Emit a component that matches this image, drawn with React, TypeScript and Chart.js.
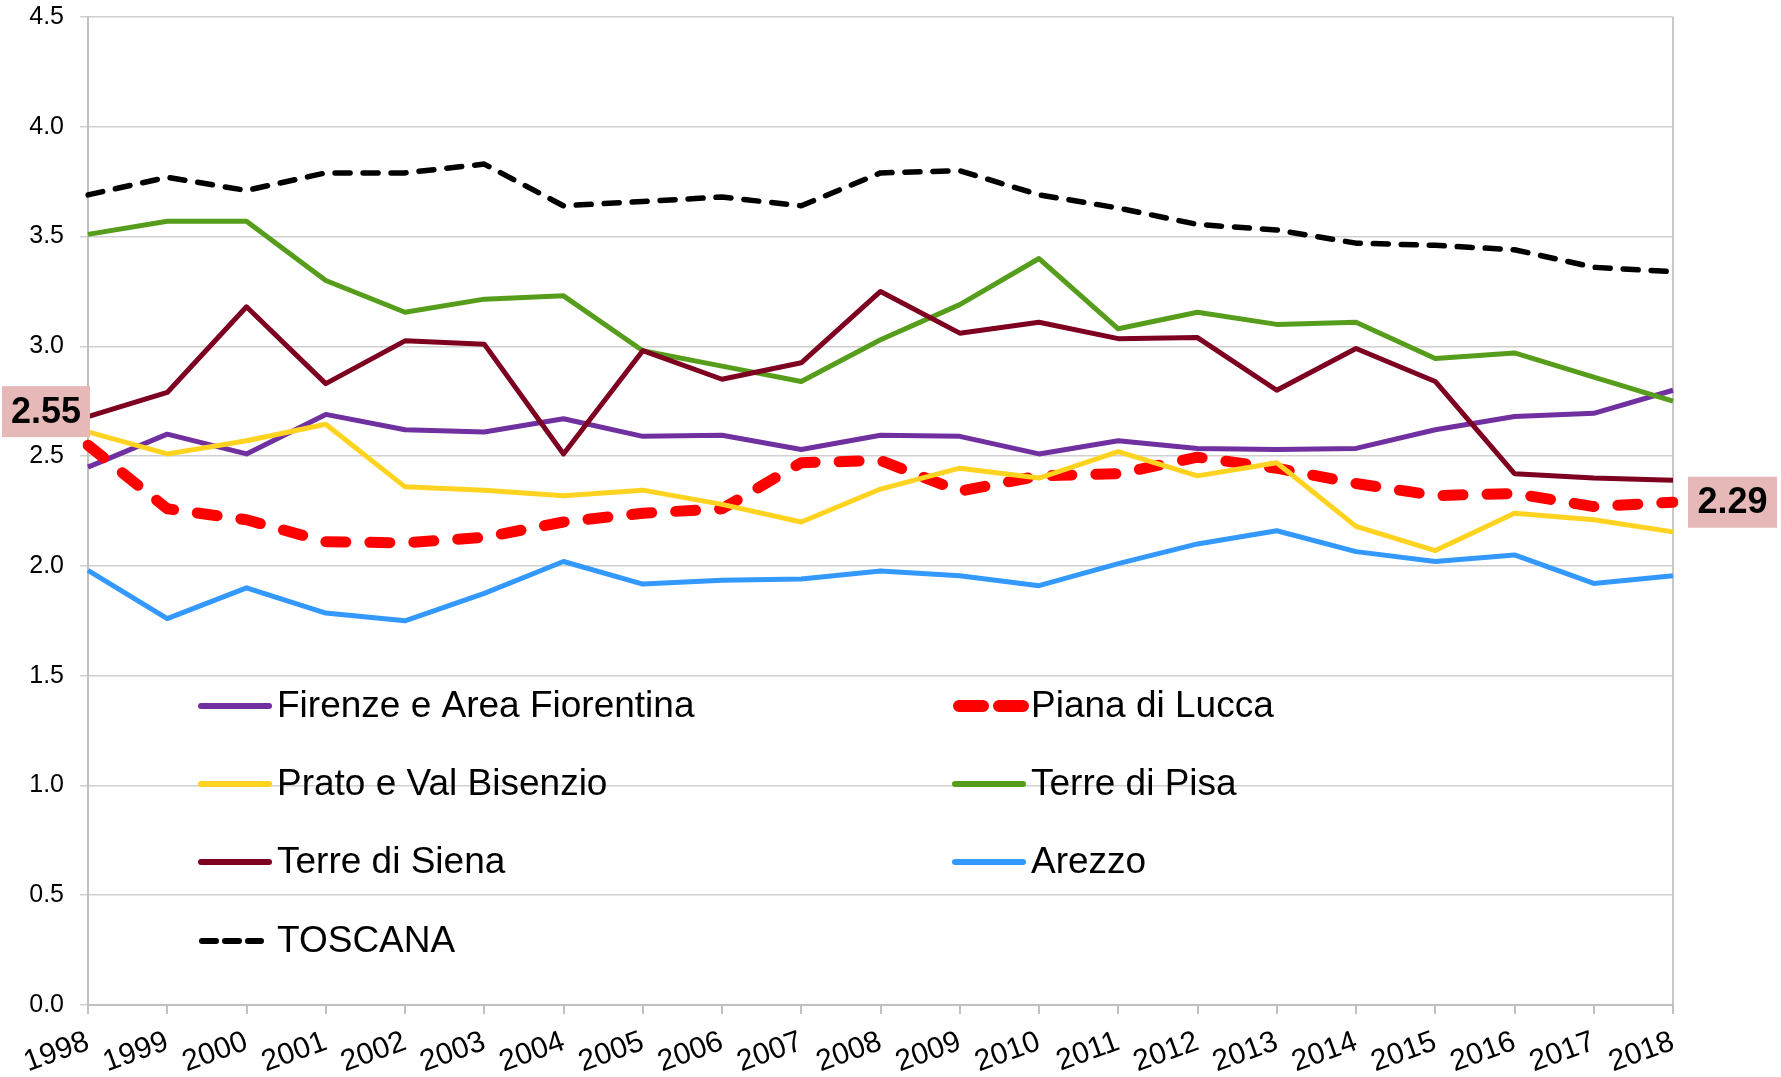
import React, { useEffect, useRef } from "react";
import { Chart, registerables } from "chart.js";

Chart.register(...registerables);

const years = ["1998", "1999", "2000", "2001", "2002", "2003", "2004", "2005", "2006", "2007", "2008", "2009", "2010", "2011", "2012", "2013", "2014", "2015", "2016", "2017", "2018"];

const firenze = [2.45, 2.60, 2.51, 2.69, 2.62, 2.61, 2.67, 2.59, 2.595, 2.53, 2.595, 2.59, 2.51, 2.57, 2.535, 2.53, 2.535, 2.62, 2.68, 2.695, 2.80];
const pianaLucca = [2.55, 2.26, 2.21, 2.11, 2.105, 2.13, 2.20, 2.24, 2.26, 2.47, 2.48, 2.34, 2.41, 2.42, 2.495, 2.445, 2.375, 2.32, 2.33, 2.27, 2.29];
const prato = [2.61, 2.51, 2.57, 2.645, 2.36, 2.345, 2.32, 2.345, 2.28, 2.20, 2.35, 2.445, 2.40, 2.52, 2.41, 2.47, 2.18, 2.07, 2.24, 2.21, 2.155];
const terrePisa = [3.51, 3.57, 3.57, 3.30, 3.155, 3.215, 3.23, 2.98, 2.91, 2.84, 3.03, 3.19, 3.40, 3.08, 3.155, 3.10, 3.11, 2.945, 2.97, 2.86, 2.75];
const terreSiena = [2.68, 2.79, 3.18, 2.83, 3.025, 3.01, 2.51, 2.98, 2.85, 2.925, 3.25, 3.06, 3.11, 3.035, 3.04, 2.80, 2.99, 2.84, 2.42, 2.40, 2.39];
const arezzo = [1.98, 1.76, 1.90, 1.785, 1.75, 1.875, 2.02, 1.917, 1.935, 1.94, 1.977, 1.955, 1.91, 2.01, 2.10, 2.16, 2.065, 2.02, 2.05, 1.92, 1.955];
const toscana = [3.69, 3.77, 3.71, 3.79, 3.79, 3.83, 3.64, 3.66, 3.68, 3.64, 3.79, 3.80, 3.69, 3.63, 3.555, 3.53, 3.47, 3.46, 3.44, 3.36, 3.34];

const seriesNames = ["Firenze e Area Fiorentina", "Piana di Lucca", "Prato e Val Bisenzio", "Terre di Pisa", "Terre di Siena", "Arezzo", "TOSCANA"];

const FONT = '"Liberation Sans", Arial, sans-serif';

export default function App() {
  const ref = useRef<HTMLCanvasElement>(null);

  useEffect(() => {
    const canvas = ref.current;
    if (!canvas) return;

    const styles = [
      { color: "#7030a0", width: 5, dash: [] as number[] },
      { color: "#ff0000", width: 11, dash: [20, 24] },
      { color: "#ffd320", width: 5, dash: [] as number[] },
      { color: "#579d1c", width: 5, dash: [] as number[] },
      { color: "#7e0021", width: 5, dash: [] as number[] },
      { color: "#3399ff", width: 5, dash: [] as number[] },
      { color: "#000000", width: 5.5, dash: [15, 13] },
    ];
    const values = [firenze, pianaLucca, prato, terrePisa, terreSiena, arezzo, toscana];

    const datasets = values.map((d, i) => ({
      label: seriesNames[i],
      data: d,
      borderColor: styles[i].color,
      backgroundColor: styles[i].color,
      borderWidth: styles[i].width,
      borderDash: styles[i].dash,
      borderCapStyle: styles[i].dash.length ? ("round" as const) : ("butt" as const),
      borderJoinStyle: "round" as const,
      pointRadius: 0,
      pointHoverRadius: 0,
      tension: 0,
      fill: false,
      order: 10 - i,
    }));

    const legendPlugin = {
      id: "customLegend",
      afterDatasetsDraw(chart: any) {
        const ctx = chart.ctx as CanvasRenderingContext2D;
        const cols = [199, 953];
        const rows = [706, 784, 862, 941];
        ctx.save();
        seriesNames.forEach((name, i) => {
          const x0 = cols[i % 2];
          const y = rows[Math.floor(i / 2)];
          const st = styles[i];
          ctx.beginPath();
          ctx.strokeStyle = st.color;
          ctx.lineWidth = i === 1 ? 12 : 6;
          ctx.lineCap = "round";
          if (i === 1) {
            ctx.setLineDash([24, 16]);
            ctx.moveTo(x0 + 6, y);
            ctx.lineTo(x0 + 70, y);
          } else if (i === 6) {
            ctx.setLineDash([14, 9]);
            ctx.moveTo(x0 + 3, y);
            ctx.lineTo(x0 + 62, y);
          } else {
            ctx.setLineDash([]);
            ctx.moveTo(x0 + 2, y);
            ctx.lineTo(x0 + 70, y);
          }
          ctx.stroke();
          ctx.setLineDash([]);
          ctx.fillStyle = "#000";
          ctx.font = `37px ${FONT}`;
          ctx.textBaseline = "middle";
          ctx.textAlign = "left";
          ctx.fillText(name, x0 + 78, y + 1);
        });
        ctx.restore();
      },
    };

    const valueLabelPlugin = {
      id: "valueLabels",
      afterDraw(chart: any) {
        const ctx = chart.ctx as CanvasRenderingContext2D;
        const xs = chart.scales.x;
        const ys = chart.scales.y;
        const first = pianaLucca[0];
        const last = pianaLucca[pianaLucca.length - 1];
        ctx.save();
        ctx.font = `bold 36px ${FONT}`;
        ctx.textAlign = "center";
        ctx.textBaseline = "middle";
        const lx = xs.getPixelForValue(0);
        const ly = ys.getPixelForValue(first);
        const lw = 88, lh = 51;
        const lLeft = lx - 86, lTop = ly - 8 - lh;
        ctx.fillStyle = "#e6b9b8";
        ctx.fillRect(lLeft, lTop, lw, lh);
        ctx.fillStyle = "#000";
        ctx.fillText(first.toFixed(2), lLeft + lw / 2, lTop + lh / 2 + 1);
        const rx = xs.getPixelForValue(years.length - 1);
        const ry = ys.getPixelForValue(last);
        const rw = 89, rh = 51;
        const rLeft = rx + 15, rTop = ry - rh / 2;
        ctx.fillStyle = "#e6b9b8";
        ctx.fillRect(rLeft, rTop, rw, rh);
        ctx.fillStyle = "#000";
        ctx.fillText(last.toFixed(2), rLeft + rw / 2, rTop + rh / 2 + 1);
        ctx.restore();
      },
    };

    const chart = new Chart(canvas, {
      type: "line",
      data: { labels: years, datasets },
      options: {
        responsive: false,
        maintainAspectRatio: false,
        animation: false,
        layout: { padding: { top: 0, right: 108, left: 0, bottom: 0 } },
        plugins: {
          legend: { display: false },
          tooltip: { enabled: false },
        },
        scales: {
          x: {
            offset: false,
            grid: {
              drawOnChartArea: true,
              color: (c: any) => (c.index === years.length - 1 ? "#c8c8c8" : "rgba(0,0,0,0)"),
              tickColor: "#c0c0c0",
              tickLength: 9,
              lineWidth: 2,
            },
            border: { color: "#c0c0c0", width: 2 },
            ticks: {
              font: { family: FONT, size: 30 },
              color: "#000",
              minRotation: 20,
              maxRotation: 20,
              autoSkip: false,
              padding: 10,
            },
            afterFit: (s: any) => {
              s.height = 72;
            },
          },
          y: {
            min: 0,
            max: 4.5,
            grid: {
              color: "#d0d0d0",
              lineWidth: 1.5,
              tickLength: 8,
              tickColor: "#d0d0d0",
            },
            border: { color: "#c0c0c0", width: 2 },
            ticks: {
              stepSize: 0.5,
              callback: (v: any) => Number(v).toFixed(1),
              font: { family: FONT, size: 25 },
              color: "#000",
              padding: 16,
            },
            afterFit: (s: any) => {
              s.width = 88;
              s.paddingTop = 17;
              s.paddingBottom = 0;
            },
          },
        },
      },
      plugins: [legendPlugin, valueLabelPlugin],
    });

    return () => chart.destroy();
  }, []);

  return (
    <div style={{ position: "fixed", left: 0, top: 0, width: 1781, height: 1077, background: "#fff" }}>
      <canvas ref={ref} width={1781} height={1077} style={{ display: "block" }} />
    </div>
  );
}
